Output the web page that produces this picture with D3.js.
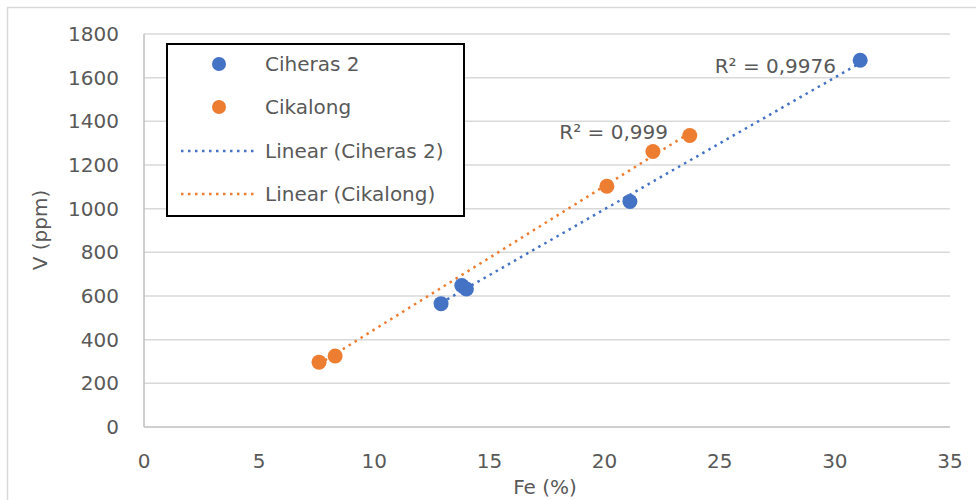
<!DOCTYPE html>
<html>
<head>
<meta charset="utf-8">
<script src="https://cdn.jsdelivr.net/npm/d3@7"></script>
<style>
  body { margin: 0; background: #fff; }
  svg text { font-family: "DejaVu Sans", sans-serif; fill: #595959; }
</style>
</head>
<body>
<div id="chart"></div>
<script>
const SERIES_NAMES = ["Ciheras 2", "Cikalong"];
const CIHERAS_FE = [12.9, 13.8, 14.0, 21.1, 31.1];
const CIHERAS_V  = [565, 648, 632, 1033, 1680];
const CIKALONG_FE = [7.6, 8.3, 20.1, 22.1, 23.7];
const CIKALONG_V  = [297, 325, 1103, 1262, 1335];
const R2_LABELS = ["R² = 0,9976", "R² = 0,999"];
const X_TICKS = [0, 5, 10, 15, 20, 25, 30, 35];
const Y_TICKS = [0, 200, 400, 600, 800, 1000, 1200, 1400, 1600, 1800];

const COLORS = ["#4472C4", "#ED7D31"];

const series = [
  { name: SERIES_NAMES[0], xs: CIHERAS_FE, ys: CIHERAS_V, color: COLORS[0], r2: R2_LABELS[0] },
  { name: SERIES_NAMES[1], xs: CIKALONG_FE, ys: CIKALONG_V, color: COLORS[1], r2: R2_LABELS[1] },
];

// least squares fit, like Excel's linear trendline
function fit(xs, ys) {
  const n = xs.length;
  const mx = d3.mean(xs), my = d3.mean(ys);
  let sxy = 0, sxx = 0;
  for (let i = 0; i < n; i++) { sxy += (xs[i] - mx) * (ys[i] - my); sxx += (xs[i] - mx) ** 2; }
  const b = sxy / sxx;
  return { a: my - b * mx, b };
}

const W = 976, H = 500;
const margin = { top: 34, right: 26, bottom: 73, left: 144 };
const w = W - margin.left - margin.right;
const h = H - margin.top - margin.bottom;
const FS = "20px";

const svg = d3.select("#chart").append("svg").attr("width", W).attr("height", H);

// outer chart border
svg.append("rect").attr("x", 7.5).attr("y", 7.5).attr("width", 1000).attr("height", 1000)
  .attr("fill", "none").attr("stroke", "#d9d9d9").attr("stroke-width", 1.5);

const g = svg.append("g").attr("transform", `translate(${margin.left},${margin.top})`);

const x = d3.scaleLinear().domain([0, 35]).range([0, w]);
const y = d3.scaleLinear().domain([0, 1800]).range([h, 0]);

// gridlines
g.selectAll(".grid").data(Y_TICKS.slice(1)).join("line")
  .attr("x1", 0).attr("x2", w)
  .attr("y1", (d) => y(d)).attr("y2", (d) => y(d))
  .attr("stroke", "#d9d9d9").attr("stroke-width", 1.5);

// axis lines
g.append("line").attr("x1", 0).attr("x2", w).attr("y1", h).attr("y2", h)
  .attr("stroke", "#bfbfbf").attr("stroke-width", 1.5);
g.append("line").attr("x1", 0).attr("x2", 0).attr("y1", 0).attr("y2", h)
  .attr("stroke", "#bfbfbf").attr("stroke-width", 1.5);

// tick labels
g.selectAll(".ytick").data(Y_TICKS).join("text")
  .attr("x", -25).attr("y", (d) => y(d)).attr("dy", "0.35em")
  .attr("text-anchor", "end").attr("font-size", FS)
  .text((d) => d);

g.selectAll(".xtick").data(X_TICKS).join("text")
  .attr("x", (d) => x(d)).attr("y", h + 34).attr("dy", "0.35em")
  .attr("text-anchor", "middle").attr("font-size", FS)
  .text((d) => d);

// axis titles
svg.append("text").attr("transform", "translate(40,230) rotate(-90)")
  .attr("text-anchor", "middle").attr("dy", "0.35em").attr("font-size", FS)
  .text("V (ppm)");
svg.append("text").attr("x", 545).attr("y", 487).attr("dy", "0.35em")
  .attr("text-anchor", "middle").attr("font-size", FS)
  .text("Fe (%)");

// trendlines
series.forEach((s) => {
  const f = fit(s.xs, s.ys);
  const x0 = d3.min(s.xs), x1 = d3.max(s.xs);
  g.append("line")
    .attr("x1", x(x0)).attr("y1", y(f.a + f.b * x0))
    .attr("x2", x(x1)).attr("y2", y(f.a + f.b * x1))
    .attr("stroke", s.color).attr("stroke-width", 2.5)
    .attr("stroke-dasharray", "2.5 4.5");
});

// points
series.forEach((s) => {
  g.selectAll(null).data(s.xs.map((v, i) => [v, s.ys[i]])).join("circle")
    .attr("cx", (d) => x(d[0])).attr("cy", (d) => y(d[1]))
    .attr("r", 7.5).attr("fill", s.color);
});

// R² labels
svg.append("text").attr("x", 836).attr("y", 66).attr("dy", "0.35em")
  .attr("text-anchor", "end").attr("font-size", FS).text(series[0].r2);
svg.append("text").attr("x", 668).attr("y", 132).attr("dy", "0.35em")
  .attr("text-anchor", "end").attr("font-size", FS).text(series[1].r2);

// legend
const lg = svg.append("g").attr("transform", "translate(167,44)");
lg.append("rect").attr("width", 297).attr("height", 172)
  .attr("fill", "#fff").attr("stroke", "#000").attr("stroke-width", 2);

const legendItems = [
  { label: series[0].name, color: series[0].color, type: "dot" },
  { label: series[1].name, color: series[1].color, type: "dot" },
  { label: `Linear (${series[0].name})`, color: series[0].color, type: "line" },
  { label: `Linear (${series[1].name})`, color: series[1].color, type: "line" },
];
const ly = [20, 63, 107, 150];

legendItems.forEach((d, i) => {
  if (d.type === "dot") {
    lg.append("circle").attr("cx", 52).attr("cy", ly[i]).attr("r", 7).attr("fill", d.color);
  } else {
    lg.append("line").attr("x1", 14).attr("x2", 88).attr("y1", ly[i]).attr("y2", ly[i])
      .attr("stroke", d.color).attr("stroke-width", 2.5).attr("stroke-dasharray", "2.5 4.5");
  }
  lg.append("text").attr("x", 98).attr("y", ly[i]).attr("dy", "0.35em")
    .attr("font-size", FS).text(d.label);
});
</script>
</body>
</html>
